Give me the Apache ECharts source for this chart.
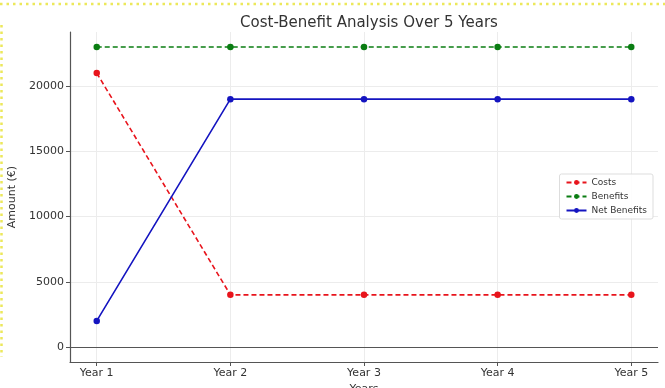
<!DOCTYPE html>
<html>
<head>
<meta charset="utf-8">
<script src="https://cdn.jsdelivr.net/npm/echarts@6/dist/echarts.min.js"></script>
<style>
  html, body { margin: 0; padding: 0; background: #fff; }
  #chart { width: 665px; height: 388px; }
</style>
</head>
<body>
<div id="chart"></div>
<script>
// Five-year cost / benefit figures (EUR)
const years = ['Year 1', 'Year 2', 'Year 3', 'Year 4', 'Year 5'];
const costs = [21000, 4000, 4000, 4000, 4000];
const benefits = [23000, 23000, 23000, 23000, 23000];
const netBenefits = [2000, 19000, 19000, 19000, 19000];
const yTicks = [0, 5000, 10000, 15000, 20000];

const xIdx = years.map((_, i) => i);
const pairs = arr => arr.map((v, i) => [i, v]);

const font = 'DejaVu Sans';
const chart = echarts.init(document.getElementById('chart'));

function lineSeries(name, values, color, dashed) {
  return {
    name: name,
    type: 'line',
    data: pairs(values),
    symbol: 'circle',
    symbolSize: 6.5,
    color: color,
    lineStyle: { width: 1.6, color: color, type: dashed ? [5, 3] : 'solid' },
    itemStyle: { color: color },
    emphasis: { disabled: true },
    z: 3
  };
}

const series = [
  lineSeries('Costs', costs, '#e8141c', true),
  lineSeries('Benefits', benefits, '#0a7d12', true),
  lineSeries('Net Benefits', netBenefits, '#1414c0', false)
];
// zero reference line
series[0].markLine = {
  silent: true,
  symbol: 'none',
  label: { show: false },
  lineStyle: { color: '#555', width: 1.2, type: 'solid' },
  data: [{ yAxis: 0 }],
  z: 1
};

chart.setOption({
  animation: false,
  title: {
    text: 'Cost-Benefit Analysis Over 5 Years',
    left: 364,
    textAlign: 'center',
    top: 11,
    textStyle: { fontFamily: font, fontSize: 15, fontWeight: 'normal', color: '#333' }
  },
  grid: { left: 70, right: 7, top: 32, bottom: 26, containLabel: false, outerBoundsMode: 'none' },
  legend: {
    orient: 'vertical',
    right: 12,
    top: 174,
    itemWidth: 20,
    itemHeight: 6,
    itemGap: 5,
    padding: [4, 6, 4, 6],
    borderColor: '#ddd',
    borderWidth: 1,
    borderRadius: 2,
    backgroundColor: 'rgba(255,255,255,0.9)',
    textStyle: { fontFamily: font, fontSize: 9, color: '#333' },
    data: ['Costs', 'Benefits', 'Net Benefits']
  },
  xAxis: {
    type: 'value',
    min: -0.2,
    max: 4.2,
    name: 'Years',
    nameLocation: 'middle',
    nameGap: 22,
    nameTextStyle: { fontFamily: font, fontSize: 11, color: '#333' },
    axisLine: { show: true, onZero: false, lineStyle: { color: '#555', width: 1.2 } },
    axisTick: { show: true, customValues: xIdx, length: 4, lineStyle: { color: '#555' } },
    axisLabel: {
      customValues: xIdx,
      formatter: v => years[Math.round(v)],
      fontFamily: font, fontSize: 11, color: '#333', margin: 6
    },
    splitLine: { show: true, lineStyle: { color: '#ececec', width: 1 } }
  },
  yAxis: {
    type: 'value',
    min: -1150,
    max: 24150,
    name: 'Amount (€)',
    nameLocation: 'middle',
    nameGap: 48,
    nameTextStyle: { fontFamily: font, fontSize: 11, color: '#333' },
    axisLine: { show: true, onZero: false, lineStyle: { color: '#555', width: 1.2 } },
    axisTick: { show: true, customValues: yTicks, length: 4, lineStyle: { color: '#555' } },
    axisLabel: {
      customValues: yTicks,
      formatter: v => String(v),
      fontFamily: font, fontSize: 11, color: '#333', margin: 6
    },
    splitLine: { show: true, lineStyle: { color: '#ececec', width: 1 } }
  },
  graphic: [
    {
      type: 'line',
      shape: { x1: 0, y1: 4, x2: 665, y2: 4 },
      style: { stroke: '#ece85a', lineWidth: 2.5, lineDash: [2.5, 4] },
      silent: true
    },
    {
      type: 'line',
      shape: { x1: 1.5, y1: 25, x2: 1.5, y2: 357 },
      style: { stroke: '#ece85a', lineWidth: 2.5, lineDash: [2.5, 4] },
      silent: true
    }
  ],
  series: series
});
</script>
</body>
</html>
